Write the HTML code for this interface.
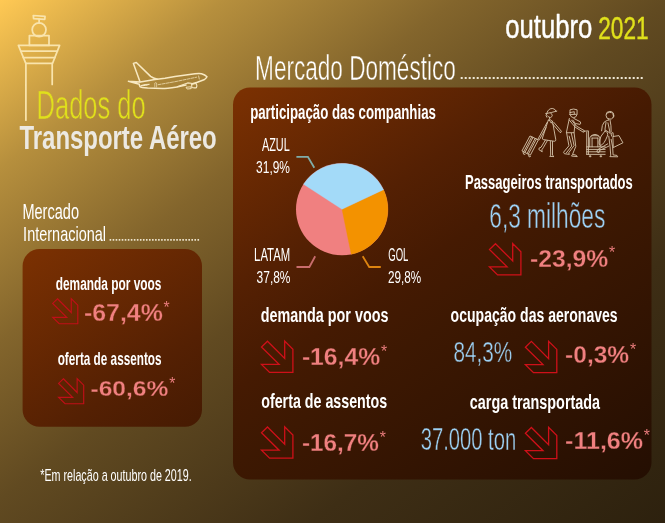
<!DOCTYPE html>
<html><head><meta charset="utf-8"><title>Dados do Transporte Aéreo</title>
<style>
html,body{margin:0;padding:0;background:#2d210e;}
body{width:665px;height:523px;overflow:hidden;font-family:"Liberation Sans",sans-serif;}
svg{display:block;}
text{font-family:"Liberation Sans",sans-serif;}
</style></head><body>
<svg width="665" height="523" viewBox="0 0 665 523">
<defs>
<linearGradient id="bg" gradientUnits="userSpaceOnUse" x1="0" y1="0" x2="488.6" y2="654.7">
<stop offset="0" stop-color="rgb(255,201,84)"/>
<stop offset="0.165" stop-color="rgb(182,143,61)"/>
<stop offset="0.335" stop-color="rgb(131,101,44)"/>
<stop offset="0.49" stop-color="rgb(97,74,33)"/>
<stop offset="0.74" stop-color="rgb(62,46,21)"/>
<stop offset="1" stop-color="rgb(45,33,14)"/>
</linearGradient>
<linearGradient id="pd" gradientUnits="userSpaceOnUse" x1="233" y1="88" x2="553.7" y2="558.9">
<stop offset="0" stop-color="rgb(124,49,2)"/>
<stop offset="0.3" stop-color="rgb(84,32,3)"/>
<stop offset="0.44" stop-color="rgb(69,26,2)"/>
<stop offset="0.55" stop-color="rgb(61,24,2)"/>
<stop offset="0.95" stop-color="rgb(38,15,2)"/>
<stop offset="1" stop-color="rgb(35,14,2)"/>
</linearGradient>
<linearGradient id="pi" gradientUnits="userSpaceOnUse" x1="22.6" y1="249" x2="343.3" y2="719.9">
<stop offset="0" stop-color="rgb(124,49,2)"/>
<stop offset="0.3" stop-color="rgb(84,32,3)"/>
<stop offset="0.44" stop-color="rgb(69,26,2)"/>
<stop offset="0.55" stop-color="rgb(61,24,2)"/>
<stop offset="0.95" stop-color="rgb(38,15,2)"/>
<stop offset="1" stop-color="rgb(35,14,2)"/>
</linearGradient>
<mask id="m0" maskUnits="userSpaceOnUse" x="0" y="0" width="665" height="523"><text transform="matrix(0.11294 0 0 0.17971 255.09 79.80)" font-size="200" fill="#fff" stroke="#000" stroke-width="2.81" stroke-linejoin="round">Mercado Doméstico</text></mask>
<mask id="m1" maskUnits="userSpaceOnUse" x="0" y="0" width="665" height="523"><text transform="matrix(0.12728 0 0 0.20290 36.61 118.75)" font-size="200" fill="#fff" stroke="#000" stroke-width="3.11" stroke-linejoin="round">Dados do</text></mask>
<mask id="m2" maskUnits="userSpaceOnUse" x="0" y="0" width="665" height="523"><text transform="matrix(0.11352 0 0 0.17071 489.26 228.30)" font-size="200" fill="#fff" stroke="#000" stroke-width="2.87" stroke-linejoin="round">6,3 milhões</text></mask>
<mask id="m3" maskUnits="userSpaceOnUse" x="0" y="0" width="665" height="523"><text transform="matrix(0.12347 0 0 0.12214 530.09 266.85)" font-size="200" font-weight="bold" fill="#fff" stroke="#000" stroke-width="2.44" stroke-linejoin="round">-23,9%</text></mask>
<mask id="m4" maskUnits="userSpaceOnUse" x="0" y="0" width="665" height="523"><text transform="matrix(0.12363 0 0 0.12029 301.88 364.85)" font-size="200" font-weight="bold" fill="#fff" stroke="#000" stroke-width="2.46" stroke-linejoin="round">-16,4%</text></mask>
<mask id="m5" maskUnits="userSpaceOnUse" x="0" y="0" width="665" height="523"><text transform="matrix(0.12170 0 0 0.12029 301.90 451.25)" font-size="200" font-weight="bold" fill="#fff" stroke="#000" stroke-width="2.48" stroke-linejoin="round">-16,7%</text></mask>
<mask id="m6" maskUnits="userSpaceOnUse" x="0" y="0" width="665" height="523"><text transform="matrix(0.10371 0 0 0.14964 453.50 361.78)" font-size="200" fill="#fff" stroke="#000" stroke-width="2.81" stroke-linejoin="round">84,3%</text></mask>
<mask id="m7" maskUnits="userSpaceOnUse" x="0" y="0" width="665" height="523"><text transform="matrix(0.12270 0 0 0.11857 565.09 363.05)" font-size="200" font-weight="bold" fill="#fff" stroke="#000" stroke-width="2.49" stroke-linejoin="round">-0,3%</text></mask>
<mask id="m8" maskUnits="userSpaceOnUse" x="0" y="0" width="665" height="523"><text transform="matrix(0.10103 0 0 0.15393 420.72 449.88)" font-size="200" fill="#fff" stroke="#000" stroke-width="2.81" stroke-linejoin="round">37.000 ton</text></mask>
<mask id="m9" maskUnits="userSpaceOnUse" x="0" y="0" width="665" height="523"><text transform="matrix(0.12537 0 0 0.12174 565.07 449.25)" font-size="200" font-weight="bold" fill="#fff" stroke="#000" stroke-width="2.43" stroke-linejoin="round">-11,6%</text></mask>
<mask id="m10" maskUnits="userSpaceOnUse" x="0" y="0" width="665" height="523"><text transform="matrix(0.12444 0 0 0.11500 83.98 321.25)" font-size="200" font-weight="bold" fill="#fff" stroke="#000" stroke-width="2.51" stroke-linejoin="round">-67,4%</text></mask>
<mask id="m11" maskUnits="userSpaceOnUse" x="0" y="0" width="665" height="523"><text transform="matrix(0.12299 0 0 0.11429 90.49 396.45)" font-size="200" font-weight="bold" fill="#fff" stroke="#000" stroke-width="2.53" stroke-linejoin="round">-60,6%</text></mask>
</defs>
<rect width="665" height="523" fill="url(#bg)"/>
<!-- panels -->
<rect x="233" y="87.5" width="418.5" height="392" rx="17" ry="17" fill="url(#pd)"/>
<rect x="22.6" y="249" width="179.4" height="177.7" rx="17" ry="17" fill="url(#pi)"/>
<!-- dotted rules -->
<line x1="460.7" y1="78" x2="643.4" y2="78" stroke="#efe8d6" stroke-width="2" stroke-dasharray="2 2"/>
<line x1="109.6" y1="239.9" x2="200.2" y2="239.9" stroke="#ece3cc" stroke-width="1.9" stroke-dasharray="1.6 1.43"/>
<!-- tower -->
<g fill="none" stroke="#f9e4ac" stroke-width="1.75" stroke-linejoin="round" stroke-linecap="round">
<path d="M33.3,15.5 L45,16.4 L44.8,19.3 L33.6,18.6 Z"/>
<path d="M39.1,19 L39.1,23"/>
<circle cx="39.1" cy="29.8" r="6.9"/>
<rect x="29.4" y="35.6" width="19.6" height="9.8"/>
<path d="M18.4,45.4 L59.6,45.4 L52.6,63.3 L25.8,63.3 Z"/>
<path d="M20.7,51.1 L57.4,51.1 M23.3,57.6 L54.8,57.6"/>
<path d="M25.9,63.3 L25.9,120.2 M52.2,63.3 L52.2,84.4"/>
</g>
<!-- plane -->
<g fill="none" stroke="#f8e9c2" stroke-width="1.5" stroke-linejoin="round" stroke-linecap="round">
<path d="M128.4,81.2 L140.2,82 L155,79.6 L165,78.3 L175,76.6 L195,73.8 Q199,73.3 201.5,73.7 Q205,74.6 207,76.8 Q206.2,78.6 204,79.8 L197.3,82.3 L191.5,84 M186,85 L177,86.9 Q166,88.4 162.6,88.5 L147.6,88.1 Q141,87.5 140,86.6 Q139.3,85.5 139.3,84.3 L128.4,81.2"/>
<path d="M140,81.7 L133.4,63.4 L136.3,62.5 L150.6,76.4 Q153,78.4 157.5,79.2"/>
<path d="M141.2,85.5 Q145,84 149.4,84.3 Q146,86.1 141.2,85.5 Z" stroke-width="1"/>
<path d="M177,86.7 L187.6,82.9 L191.4,83.2" stroke-width="1.1"/>
<path d="M191.7,84.2 Q194,83.2 196.4,83.8 Q197.3,85.8 196.4,87.7 Q194,88.2 191.8,87.5 Z" stroke-width="1.1"/>
<path d="M186.4,87.2 L190.8,86.8 L191.2,88.6 L187.6,89 Z" stroke-width="0.9"/>
<path d="M154.8,86.9 L154.8,83 Q155.7,82.1 156.6,83 L156.6,86.9" stroke-width="0.6"/>
<path d="M158.1,84.7 L175,81.7 L196.6,77.2" stroke-width="0.7" stroke-dasharray="3 1.2"/>
<path d="M198.6,76 L199.3,79" stroke-width="0.7"/>
</g>
<!-- pie -->
<circle cx="342" cy="209.3" r="46.0" fill="#f08080"/>
<path d="M342,209.3 L351.23,254.26 A45.9,45.9 0 0 0 383.50,189.68 Z" fill="#f39200" stroke="#f39200" stroke-width="0.35" stroke-linejoin="round"/>
<path d="M342,209.3 L383.50,189.68 A45.9,45.9 0 0 0 303.55,184.23 Z" fill="#a3daf8" stroke="#a3daf8" stroke-width="0.35" stroke-linejoin="round"/>
<g fill="none" stroke-width="1.8">
<path d="M296.4,156.9 L307.9,156.9 L314.3,167.8" stroke="#7fadaa"/>
<path d="M362.7,256.3 L369.2,267 L380.8,267" stroke="#dd8410"/>
<path d="M315.2,256.3 L309.4,267 L296.5,267" stroke="#c96d6d"/>
</g>
<!-- people -->
<g fill="none" stroke="#d6c5ab" stroke-width="0.9" stroke-linejoin="round" stroke-linecap="round">
<path d="M 546.93,112.79 Q 548.54,108.07 552.82,108.50 Q 555.50,109.14 556.14,111.29"/>
<path d="M 545.64,113.64 Q 551.22,112.79 556.79,111.07"/>
<path d="M 550.68,113.00 Q 553.89,115.57 550.79,117.50 Q 548.54,117.71 547.47,115.79"/>
<path d="M 546.93,113.43 Q 545.00,115.57 546.72,117.29"/>
<path d="M 549.39,117.50 L 549.72,119.21"/>
<path d="M 548.32,120.07 L 542.43,138.07 Q 542.00,139.36 543.72,139.68 L 554.43,141.29 Q 556.14,141.07 555.72,139.36 L 552.50,121.36 Q 550.68,119.00 548.32,120.07"/>
<path d="M 549.29,120.07 L 551.22,123.07 L 552.50,121.14"/>
<path d="M 547.14,122.43 L 538.14,138.82 L 539.43,139.68 L 546.07,127.79"/>
<path d="M 552.29,123.50 L 560.00,132.50 Q 561.29,132.72 561.39,131.22 L 553.89,122.43"/>
<path d="M 545.32,140.22 L 541.04,147.29 L 539.22,147.93 L 538.89,149.64 L 542.22,151.79 L 541.79,149.86 L 543.29,147.72 L 547.36,140.64"/>
<path d="M 550.36,141.29 L 550.68,155.22 L 549.72,156.39 L 554.00,156.61 L 552.50,155.22 L 552.50,141.50"/>
<path d="M 530.32,136.14 L 538.36,139.89 L 530.32,155.22 L 522.29,151.14 Z"/>
<path d="M 531.71,136.79 L 523.68,151.79 M 533.00,137.43 L 524.96,152.43 M 535.14,138.39 L 527.11,153.39 M 536.43,139.04 L 528.39,154.04"/>
<path d="M 523.14,152.43 L 523.57,154.14 L 524.86,154.36 M 528.71,155.43 L 529.14,156.93 L 530.43,156.50"/>
<path d="M 570.00,114.50 L 570.00,109.79 Q 573.54,108.29 577.07,109.79 L 577.07,114.50 Q 576.21,117.71 573.32,117.71 Q 570.64,117.29 570.00,114.50 Z"/>
<path d="M 570.00,112.57 L 574.29,111.71 L 574.29,113.86 M 571.07,114.50 L 576.43,114.29"/>
<path d="M 569.36,118.46 L 566.36,132.72 L 574.07,132.72 L 574.93,124.36"/>
<path d="M 573.86,118.46 L 580.29,121.79 Q 581.25,123.29 580.07,124.36 L 575.36,123.50 L 572.79,120.07"/>
<path d="M 569.36,120.07 L 575.14,127.14 L 583.29,132.18 Q 584.79,132.07 584.36,130.68 L 576.43,126.07 L 571.50,120.07"/>
<path d="M 583.72,131.22 L 588.43,130.89 L 588.43,154.36 M 586.72,132.07 L 586.72,154.36"/>
<path d="M 566.57,132.72 L 568.93,145.79 L 563.57,152.22 L 564.43,153.72 L 569.36,154.36 L 568.71,152.75 L 574.07,145.57 L 571.29,133.14"/>
<path d="M 569.14,136.14 L 571.71,146.00 L 566.36,152.86"/>
<path d="M 574.07,132.72 L 575.79,146.43 L 572.57,154.36 L 571.50,156.07 L 577.29,156.61 L 575.79,155.00 L 573.21,154.57"/>
<path d="M 586.72,146.86 L 605.14,146.86 M 586.72,149.43 L 605.14,149.43 M 586.72,151.79 L 605.14,151.79 M 586.72,154.36 L 605.14,154.36"/>
<path d="M 589.72,146.86 L 589.72,138.07 Q 589.93,135.93 592.29,135.72 L 597.43,135.72 Q 599.79,135.93 600.00,138.07 L 600.00,146.86"/>
<path d="M 591.43,135.72 Q 594.97,132.93 598.50,135.72 M 592.07,138.07 L 597.86,138.07 M 592.07,138.07 L 592.07,146.86 M 597.86,138.07 L 597.86,146.86"/>
<path d="M 590.14,155.43 L 590.14,156.93 M 589.29,156.29 L 591.00,156.29 M 600.86,155.43 L 600.86,156.93 M 600.00,156.29 L 601.72,156.29"/>
<path d="M 613.72,115.25 Q 613.72,119.11 609.86,119.11 Q 606.00,119.11 606.00,115.25 Q 606.00,111.39 609.86,111.39 Q 613.72,111.39 613.72,115.25 Z"/>
<path d="M 606.43,113.86 Q 609.00,110.86 613.29,113.43 M 612.86,114.71 L 613.93,116.64 L 612.86,117.07"/>
<path d="M 608.79,119.00 L 608.57,120.29"/>
<path d="M 607.72,120.07 Q 603.43,121.14 602.36,125.43 L 601.61,130.79"/>
<path d="M 610.07,120.07 Q 611.36,125.43 611.14,132.07"/>
<path d="M 606.00,122.43 L 604.93,129.72 L 608.79,132.29 L 610.50,133.79 M 607.93,122.86 L 610.07,132.72"/>
<path d="M 605.04,131.00 Q 600.21,136.14 599.14,140.97 Q 598.61,145.36 600.86,145.36 Q 604.07,144.29 607.29,136.14 Q 608.79,132.29 605.04,131.00 Z"/>
<path d="M 608.79,136.14 L 610.07,146.86 L 610.72,155.22 L 609.86,156.61 L 617.79,156.82 L 616.93,155.43 L 613.07,154.89 L 612.64,146.86 L 611.14,139.36"/>
<path d="M 607.72,143.86 L 598.07,149.43 L 596.79,151.14 L 598.07,152.86 L 599.79,151.79 L 599.14,150.72 L 609.00,146.00"/>
<path d="M 613.29,136.47 L 618.97,135.61 L 622.93,142.79 L 613.61,147.39 Z"/>
<path d="M 611.57,136.14 Q 610.72,132.29 613.07,132.72 L 613.29,136.47"/>
</g>
<!-- arrows -->
<polygon points="495.50,243.70 512.70,260.90 512.70,243.50 520.90,251.70 520.90,274.90 497.60,274.90 489.50,266.90 507.10,266.90 489.50,249.50" fill="none" stroke="#cf1019" stroke-width="1.3" stroke-linejoin="miter"/>
<polygon points="267.50,341.20 284.70,358.40 284.70,341.00 292.90,349.20 292.90,372.40 269.60,372.40 261.50,364.40 279.10,364.40 261.50,347.00" fill="none" stroke="#cf1019" stroke-width="1.3" stroke-linejoin="miter"/>
<polygon points="267.50,427.00 284.70,444.20 284.70,426.80 292.90,435.00 292.90,458.20 269.60,458.20 261.50,450.20 279.10,450.20 261.50,432.80" fill="none" stroke="#cf1019" stroke-width="1.3" stroke-linejoin="miter"/>
<polygon points="531.40,341.40 548.60,358.60 548.60,341.20 556.80,349.40 556.80,372.60 533.50,372.60 525.40,364.60 543.00,364.60 525.40,347.20" fill="none" stroke="#cf1019" stroke-width="1.3" stroke-linejoin="miter"/>
<polygon points="531.40,427.50 548.60,444.70 548.60,427.30 556.80,435.50 556.80,458.70 533.50,458.70 525.40,450.70 543.00,450.70 525.40,433.30" fill="none" stroke="#cf1019" stroke-width="1.3" stroke-linejoin="miter"/>
<polygon points="57.50,298.76 71.25,312.51 71.25,298.60 77.80,305.15 77.80,323.70 59.17,323.70 52.70,317.31 66.77,317.31 52.70,303.40" fill="none" stroke="#c00f18" stroke-width="1.15" stroke-linejoin="miter"/>
<polygon points="63.40,378.76 77.15,392.51 77.15,378.60 83.70,385.15 83.70,403.70 65.07,403.70 58.60,397.31 72.67,397.31 58.60,383.40" fill="none" stroke="#c00f18" stroke-width="1.15" stroke-linejoin="miter"/>
<!-- text -->
<g opacity="0.999">
<text transform="matrix(0.12870 0 0 0.16276 505.17 37.80)" font-size="200" fill="#ffffff" stroke="#ffffff" stroke-width="2.76" stroke-linejoin="round">outubro</text>
<text transform="matrix(0.11326 0 0 0.16036 598.24 38.53)" font-size="200" fill="#e0e01b" stroke="#e0e01b" stroke-width="2.60" stroke-linejoin="round">2021</text>
<rect x="253.1" y="40.6" width="205.7" height="56.1" fill="#ffffff" mask="url(#m0)"/>
<rect x="34.9" y="74.5" width="113.4" height="63.2" fill="#e0e01b" mask="url(#m1)"/>
<text transform="matrix(0.11970 0 0 0.16522 19.46 148.60)" font-size="200" font-weight="bold" fill="#ece9e2">Transporte Aéreo</text>
<text transform="matrix(0.07268 0 0 0.10870 22.44 218.60)" font-size="200" fill="#ffffff">Mercado</text>
<text transform="matrix(0.07247 0 0 0.10507 23.10 240.50)" font-size="200" fill="#ffffff">Internacional</text>
<text transform="matrix(0.06638 0 0 0.09862 250.14 118.50)" font-size="200" font-weight="bold" fill="#ffffff">participação das companhias</text>
<text transform="matrix(0.05446 0 0 0.09058 261.90 151.00)" font-size="200" fill="#ffffff">AZUL</text>
<text transform="matrix(0.05986 0 0 0.08286 256.08 172.60)" font-size="200" fill="#ffffff">31,9%</text>
<text transform="matrix(0.05660 0 0 0.08913 254.09 260.90)" font-size="200" fill="#ffffff">LATAM</text>
<text transform="matrix(0.05986 0 0 0.08071 256.58 282.90)" font-size="200" fill="#ffffff">37,8%</text>
<text transform="matrix(0.04778 0 0 0.08929 388.22 260.90)" font-size="200" fill="#ffffff">GOL</text>
<text transform="matrix(0.05855 0 0 0.08071 387.91 282.90)" font-size="200" fill="#ffffff">29,8%</text>
<text transform="matrix(0.06510 0 0 0.10290 464.95 188.60)" font-size="200" font-weight="bold" fill="#ffffff">Passageiros transportados</text>
<rect x="486.6" y="190.5" width="121.8" height="54.0" fill="#9dd1f4" mask="url(#m2)"/>
<rect x="527.1" y="239.8" width="84.5" height="38.6" fill="#f08080" mask="url(#m3)"/>
<text transform="matrix(0.07917 0 0 0.08429 609.06 258.03)" font-size="200" fill="#e87c7c">*</text>
<text transform="matrix(0.07187 0 0 0.09862 260.73 321.70)" font-size="200" font-weight="bold" fill="#ffffff">demanda por voos</text>
<rect x="298.9" y="338.6" width="84.6" height="37.5" fill="#f08080" mask="url(#m4)"/>
<text transform="matrix(0.07917 0 0 0.08429 380.96 356.53)" font-size="200" fill="#e87c7c">*</text>
<text transform="matrix(0.07136 0 0 0.10000 261.20 408.20)" font-size="200" font-weight="bold" fill="#ffffff">oferta de assentos</text>
<rect x="298.9" y="425.0" width="83.4" height="37.5" fill="#f08080" mask="url(#m5)"/>
<text transform="matrix(0.07917 0 0 0.08429 379.76 442.93)" font-size="200" fill="#e87c7c">*</text>
<text transform="matrix(0.07027 0 0 0.09655 450.61 322.00)" font-size="200" font-weight="bold" fill="#ffffff">ocupação das aeronaves</text>
<rect x="450.5" y="328.6" width="64.9" height="47.4" fill="#9dd1f4" mask="url(#m6)"/>
<rect x="562.1" y="336.8" width="70.4" height="37.5" fill="#f08080" mask="url(#m7)"/>
<text transform="matrix(0.07917 0 0 0.08429 629.96 354.73)" font-size="200" fill="#e87c7c">*</text>
<text transform="matrix(0.07194 0 0 0.09655 469.80 408.50)" font-size="200" font-weight="bold" fill="#ffffff">carga transportada</text>
<rect x="417.6" y="415.8" width="101.2" height="48.8" fill="#9dd1f4" mask="url(#m8)"/>
<rect x="562.1" y="422.7" width="84.3" height="37.9" fill="#f08080" mask="url(#m9)"/>
<text transform="matrix(0.07917 0 0 0.08429 643.86 440.73)" font-size="200" fill="#e87c7c">*</text>
<text transform="matrix(0.05950 0 0 0.08828 55.72 289.80)" font-size="200" font-weight="bold" fill="#ffffff">demanda por voos</text>
<rect x="81.0" y="295.8" width="85.1" height="36.3" fill="#f08080" mask="url(#m10)"/>
<text transform="matrix(0.07917 0 0 0.08429 163.56 313.43)" font-size="200" fill="#e87c7c">*</text>
<text transform="matrix(0.05881 0 0 0.09034 57.69 364.70)" font-size="200" font-weight="bold" fill="#ffffff">oferta de assentos</text>
<rect x="87.5" y="371.2" width="84.2" height="36.1" fill="#f08080" mask="url(#m11)"/>
<text transform="matrix(0.07917 0 0 0.08429 169.16 388.73)" font-size="200" fill="#e87c7c">*</text>
<text transform="matrix(0.05367 0 0 0.08696 40.24 480.90)" font-size="200" fill="#ffffff">*Em relação a outubro de 2019.</text>
</g>
</svg>
</body></html>
